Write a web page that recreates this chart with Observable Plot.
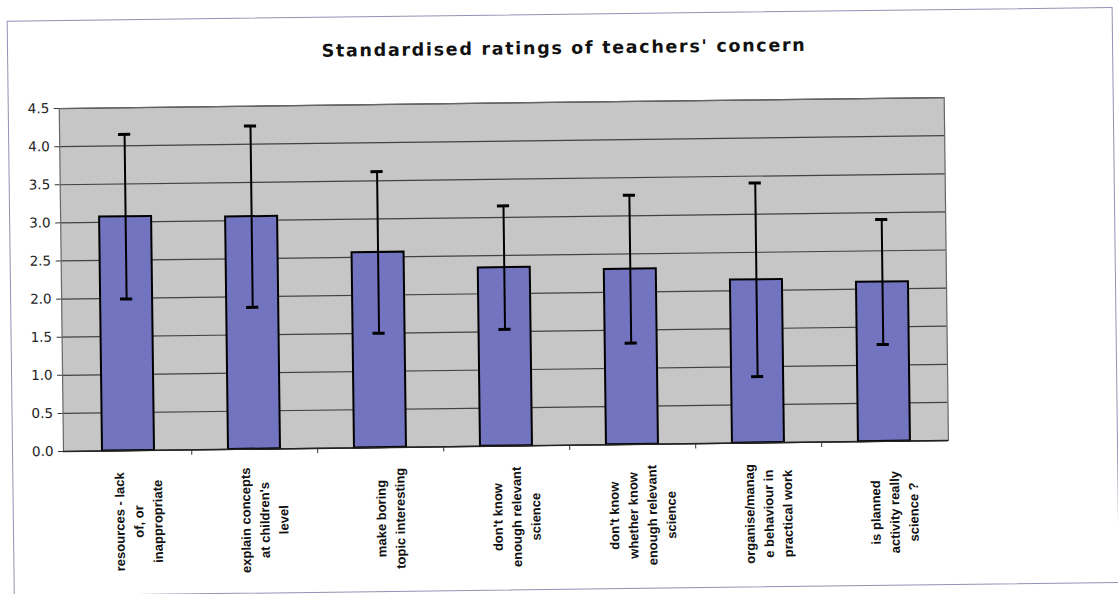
<!DOCTYPE html>
<html><head><meta charset="utf-8">
<script src="https://cdn.jsdelivr.net/npm/d3@7"></script>
<script src="https://cdn.jsdelivr.net/npm/@observablehq/plot@0.6"></script>
<style>
html,body{margin:0;padding:0;background:#fff;overflow:hidden;width:1118px;height:594px}
#wrap{position:absolute;left:0;top:0;width:1118px;height:594px;transform-origin:63px 451px;transform:rotate(-0.71deg)}
#border{position:absolute;left:12px;top:20px;width:1106px;height:576px;border:1px solid #8f93b3;box-sizing:border-box}
#title{position:absolute;left:10px;width:1118px;top:45px;text-align:center;font:bold 17.5px "DejaVu Sans";letter-spacing:1.7px;color:#111;line-height:18px}
#chart{position:absolute;left:0;top:0}
</style>
</head><body>
<div id="wrap">
<div id="border"></div>
<div id="title">Standardised ratings of teachers' concern</div>
<div id="chart"></div>
</div>
<script>
const categories = [
  "resources - lack\nof, or\ninappropriate",
  "explain concepts\nat children's\nlevel",
  "make boring\ntopic interesting",
  "don't know\nenough relevant\nscience",
  "don't know\nwhether know\nenough relevant\nscience",
  "organise/manag\ne behaviour in\npractical work",
  "is planned\nactivity really\nscience ?"
];
const means = [3.07, 3.05, 2.56, 2.34, 2.30, 2.14, 2.09];
const sds   = [1.08, 1.19, 1.06, 0.81, 0.97, 1.27, 0.82];
const yTicks = [0, 0.5, 1, 1.5, 2, 2.5, 3, 3.5, 4, 4.5];

const rows = categories.map((c, i) => ({cat: c, mean: means[i], lo: means[i] - sds[i], hi: means[i] + sds[i]}));

const W = 1118, H = 594, mL = 63, mR = 170, mT = 108, mB = 143;
const step = (W - mL - mR) / categories.length;
const padIn = 0.59;
const bw = step * (1 - padIn);
const capInset = (bw - 12) / 2;
const font = "DejaVu Sans";

const chart = Plot.plot({
  width: W, height: H,
  marginLeft: mL, marginRight: mR, marginTop: mT, marginBottom: mB,
  style: {background: "transparent", fontFamily: font},
  x: {type: "band", domain: categories, paddingInner: padIn, paddingOuter: padIn / 2, axis: null},
  y: {domain: [0, 4.5], axis: null},
  marks: [
    Plot.frame({fill: "#c6c6c6"}),
    Plot.gridY(yTicks, {stroke: "#333", strokeOpacity: 0.9, strokeWidth: 1.2}),
    Plot.axisY(yTicks, {tickSize: 5, tickPadding: 5, tickFormat: d => d.toFixed(1), fontSize: 13.5, fill: "#222", stroke: "#333", fontFamily: font}),
    Plot.frame({stroke: "#666", strokeWidth: 1.2}),
    Plot.barY(rows, {x: "cat", y: "mean", fill: "#7274c0", stroke: "#000", strokeWidth: 2}),
    Plot.ruleX(rows, {x: "cat", y1: "lo", y2: "hi", stroke: "#000", strokeWidth: 2}),
    Plot.tickY(rows, {x: "cat", y: "hi", stroke: "#000", strokeWidth: 3, insetLeft: capInset, insetRight: capInset}),
    Plot.tickY(rows, {x: "cat", y: "lo", stroke: "#000", strokeWidth: 3, insetLeft: capInset, insetRight: capInset}),
    Plot.ruleY([0], {stroke: "#222", strokeWidth: 1.5}),
    Plot.ruleX(categories.slice(0, -1), {x: d => d, dx: step / 2, y1: 0, y2: -0.07, stroke: "#333", strokeWidth: 1}),
    Plot.text(rows, {x: "cat", text: "cat", frameAnchor: "bottom", rotate: -90, textAnchor: "middle", lineAnchor: "middle",
      lineHeight: 1.46, dy: 71, dx: 8, fontSize: 13, fontWeight: "bold", fontFamily: "Liberation Sans", fill: "#111"})
  ]
});
document.getElementById("chart").appendChild(chart);
</script>
</body></html>
